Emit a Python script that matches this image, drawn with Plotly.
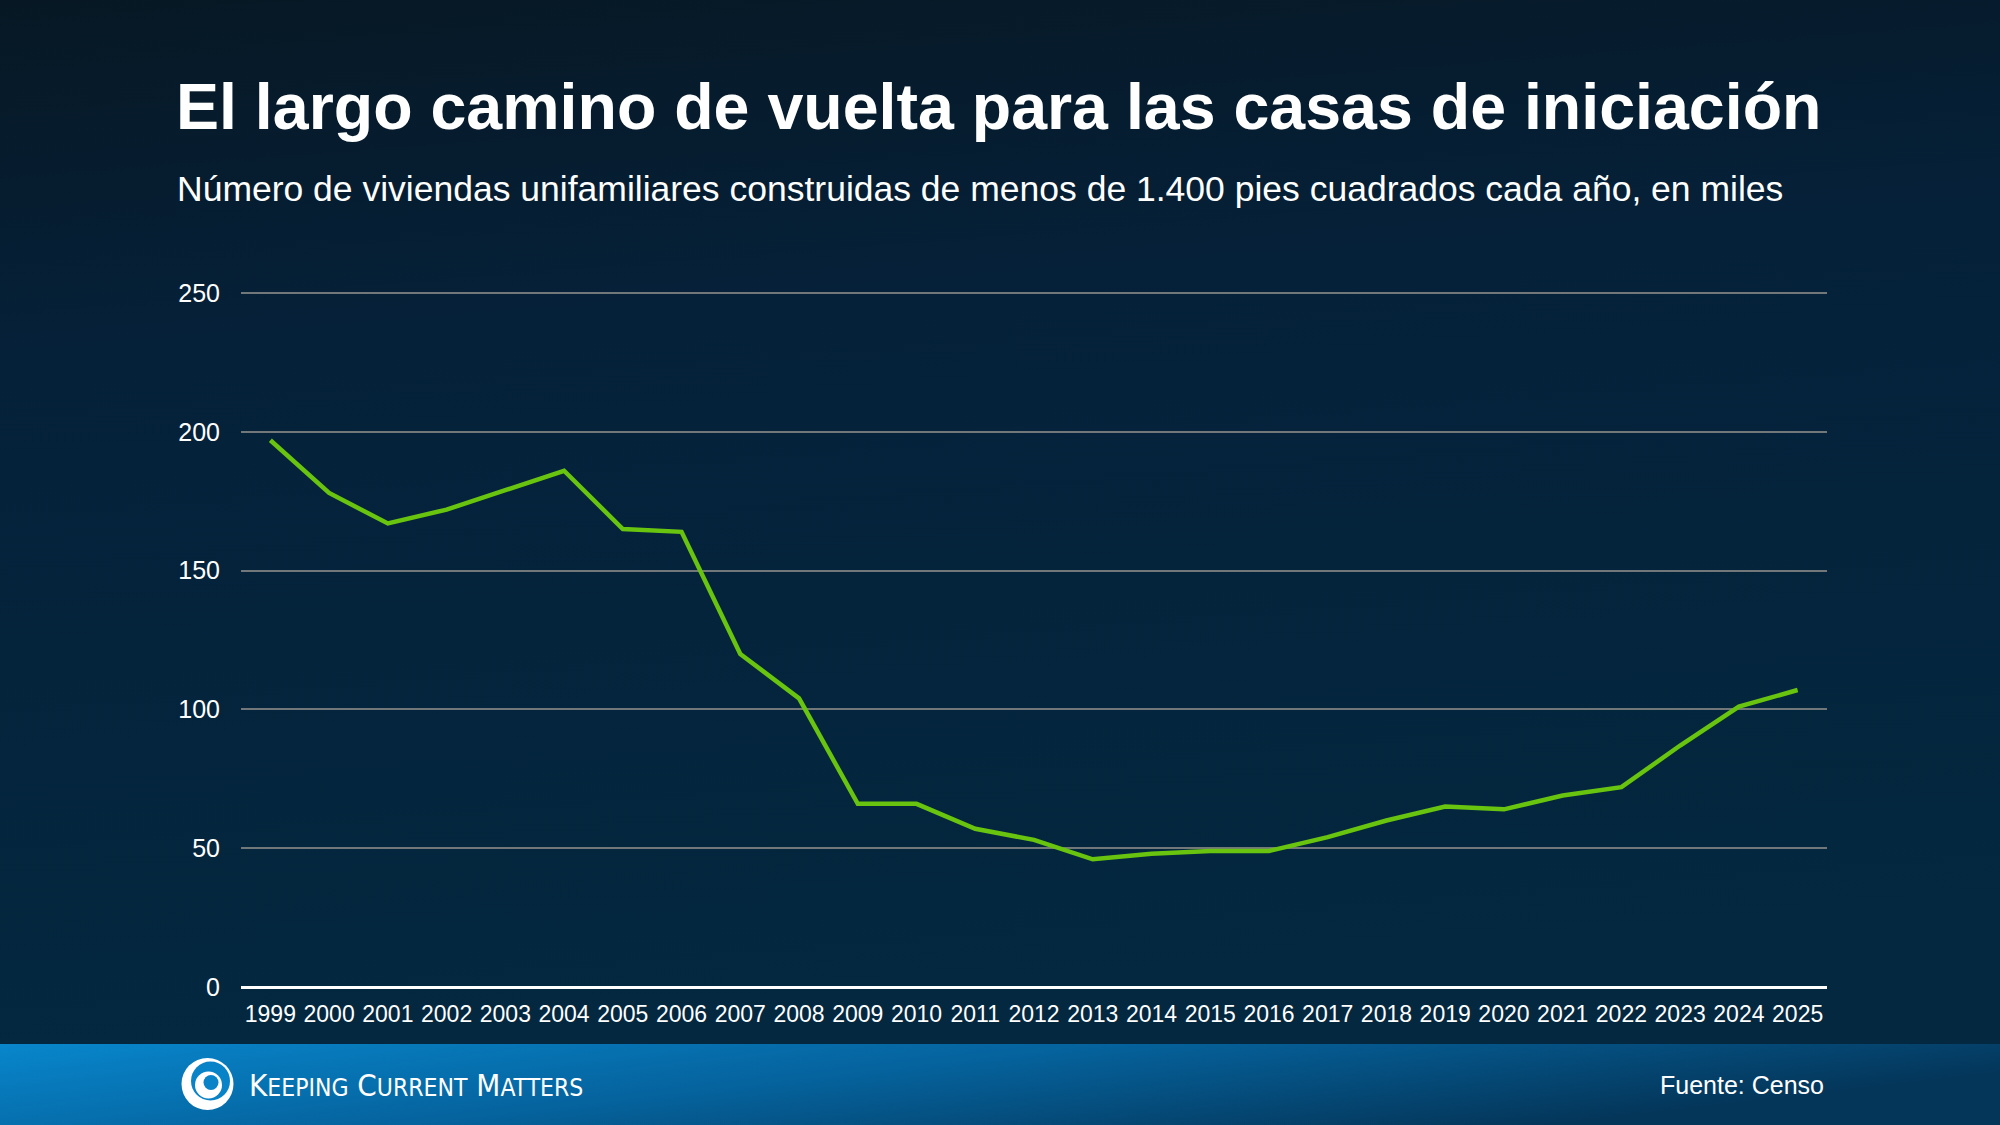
import base64
import plotly.graph_objects as go

# ---- data ----
years = [str(y) for y in range(1999, 2026)]
homes_thousands = [197, 178, 167, 172, 179, 186, 165, 164, 120, 104,
                   66, 66, 57, 53, 46, 48, 49, 49, 54, 60,
                   65, 64, 69, 72, 87, 101, 107]
y_ticks = [0, 50, 100, 150, 200, 250]

title_text = "El largo camino de vuelta para las casas de iniciación"
subtitle_text = ("Número de viviendas unifamiliares construidas de menos de "
                 "1.400 pies cuadrados cada año, en miles")
source_text = "Fuente: Censo"

# ---- layout geometry (pixels) ----
W, H = 2000, 1125
L, R, T, B = 241, 173, 292, 138
PW, PH = W - L - R, H - T - B
YMAX = 250.4


def px(x):
    return (x - L) / PW


def py(y):
    return (H - B - y) / PH


FONT = "Liberation Sans, Arial, Helvetica, sans-serif"

# ---- background (gradients + logo mark) as an SVG image ----
cx, cy = 207.5, 1084
svg = f'''<svg xmlns="http://www.w3.org/2000/svg" width="{W}" height="{H}" viewBox="0 0 {W} {H}" preserveAspectRatio="none">
<defs>
<linearGradient id="bg" x1="0" y1="0" x2="0.15" y2="1">
<stop offset="0" stop-color="#071824"/>
<stop offset="0.35" stop-color="#05213a"/>
<stop offset="1" stop-color="#03283f"/>
</linearGradient>
<linearGradient id="ft" x1="0" y1="0" x2="1" y2="0.35">
<stop offset="0" stop-color="#0886cc"/>
<stop offset="0.5" stop-color="#05629c"/>
<stop offset="1" stop-color="#04365a"/>
</linearGradient>
</defs>
<rect x="0" y="0" width="{W}" height="1044" fill="url(#bg)"/>
<rect x="0" y="1044" width="{W}" height="81" fill="url(#ft)"/>
<circle cx="{cx}" cy="{cy}" r="26" fill="#ffffff"/>
<circle cx="{cx+3}" cy="{cy-3}" r="19.5" fill="#0883c8"/>
<circle cx="{cx+1}" cy="{cy+1}" r="13.5" fill="#ffffff"/>
<circle cx="{cx+3.5}" cy="{cy-1.5}" r="7.5" fill="#0883c8"/>
</svg>'''
svg_uri = "data:image/svg+xml;base64," + base64.b64encode(svg.encode()).decode()

fig = go.Figure()
fig.add_trace(go.Scatter(
    x=years, y=homes_thousands, mode="lines",
    line=dict(color="#68c40e", width=4.5),
    hoverinfo="x+y", showlegend=False,
))

sc = "font-size:24.5px"
logo_text = (f"K<span style='{sc}'>EEPING</span> C<span style='{sc}'>URRENT</span> "
             f"M<span style='{sc}'>ATTERS</span>")

fig.update_layout(
    width=W, height=H,
    margin=dict(l=L, r=R, t=T, b=B, pad=0),
    paper_bgcolor="#04223a",
    plot_bgcolor="rgba(0,0,0,0)",
    font=dict(family=FONT, color="white"),
    images=[dict(source=svg_uri, xref="paper", yref="paper",
                 x=px(0), y=py(0), sizex=W / PW, sizey=H / PH,
                 xanchor="left", yanchor="top", sizing="stretch",
                 layer="below")],
    xaxis=dict(
        type="category", range=[-0.5, len(years) - 0.5],
        showgrid=False, zeroline=False,
        showline=False, ticks="", tickfont=dict(size=23, color="white"),
        ticklabelstandoff=11, fixedrange=True,
    ),
    yaxis=dict(
        range=[0, YMAX], tickvals=y_ticks, showgrid=True,
        gridcolor="#72777a", gridwidth=1.5,
        zeroline=True, zerolinecolor="white", zerolinewidth=3,
        showline=False, ticks="", tickfont=dict(size=25, color="white"),
        ticklabelstandoff=20, fixedrange=True,
    ),
    annotations=[
        dict(text=f"<b>{title_text}</b>", xref="paper", yref="paper",
             x=px(174), y=py(107), xanchor="left", yanchor="middle",
             showarrow=False, font=dict(size=64.5, color="white", family=FONT)),
        dict(text=subtitle_text, xref="paper", yref="paper",
             x=px(175), y=py(189), xanchor="left", yanchor="middle",
             showarrow=False, font=dict(size=35.5, color="white", family=FONT)),
        dict(text=source_text, xref="paper", yref="paper",
             x=px(1826), y=py(1085), xanchor="right", yanchor="middle",
             showarrow=False, font=dict(size=25, color="white", family=FONT)),
        dict(text=logo_text, xref="paper", yref="paper",
             x=px(247), y=py(1085), xanchor="left", yanchor="middle",
             showarrow=False,
             font=dict(size=31, color="white",
                       family="Liberation Sans Narrow, DejaVu Sans Condensed, sans-serif")),
    ],
)

fig.write_html("out.html")
